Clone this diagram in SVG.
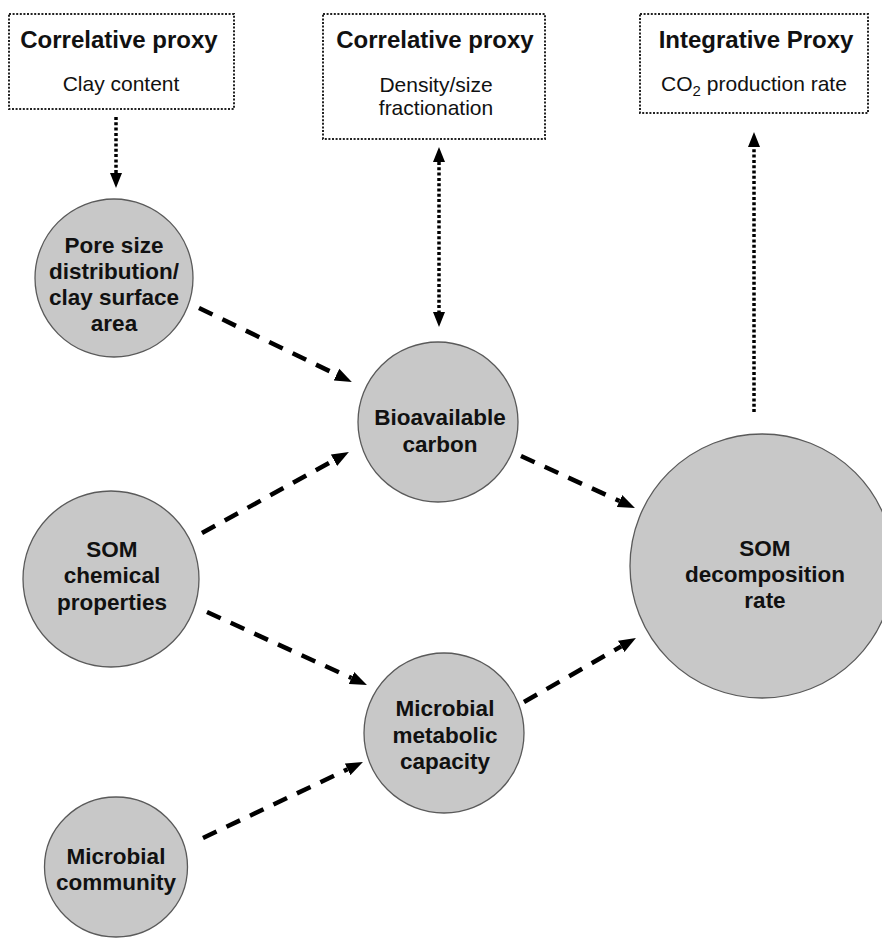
<svg xmlns="http://www.w3.org/2000/svg" width="882" height="938" viewBox="0 0 882 938">
  <defs>
    <style>
      .box { fill: #ffffff; stroke: #222222; stroke-width: 2; stroke-dasharray: 2 1.6; }
      .title { font-family: "Liberation Sans", Arial, Helvetica, sans-serif; font-weight: bold; font-size: 24px; fill: #111111; text-anchor: middle; }
      .body { font-family: "Liberation Sans", Arial, Helvetica, sans-serif; font-size: 21px; fill: #111111; text-anchor: middle; }
      .node { fill: #c8c8c8; stroke: #5a5a5a; stroke-width: 1.3; }
      .label { font-family: "Liberation Sans", Arial, Helvetica, sans-serif; font-weight: bold; font-size: 22.5px; fill: #111111; text-anchor: middle; }
      .dash { fill: none; stroke: #000000; stroke-width: 4.5; stroke-dasharray: 15 11; }
      .dot { fill: none; stroke: #000000; stroke-width: 3.5; stroke-dasharray: 3 2.3; }
    </style>
    <marker id="headDash" markerUnits="userSpaceOnUse" markerWidth="17" markerHeight="14" refX="0" refY="7" orient="auto" viewBox="0 0 17 14">
      <path d="M0,0.5 L17,7 L0,13.5 z" fill="#000000"/>
    </marker>
    <marker id="headDot" markerUnits="userSpaceOnUse" markerWidth="15" markerHeight="12" refX="0" refY="6" orient="auto-start-reverse" viewBox="0 0 15 12">
      <path d="M0,0 L15,6 L0,12 z" fill="#000000"/>
    </marker>
  </defs>

  <rect width="882" height="938" fill="#ffffff"/>

  <g id="proxy-clay">
    <rect class="box" x="9" y="14" width="225" height="95"/>
    <text class="title" x="119" y="48">Correlative proxy</text>
    <text class="body" x="121" y="91">Clay content</text>
  </g>

  <g id="proxy-density">
    <rect class="box" x="323" y="14" width="222" height="125"/>
    <text class="title" x="435" y="48">Correlative proxy</text>
    <text class="body" x="436" y="92">Density/size</text>
    <text class="body" x="436" y="115">fractionation</text>
  </g>

  <g id="proxy-co2">
    <rect class="box" x="640" y="14" width="228" height="99"/>
    <text class="title" x="756" y="48">Integrative Proxy</text>
    <text class="body" x="754" y="91">CO<tspan font-size="15" dy="5">2</tspan><tspan dy="-5"> production rate</tspan></text>
  </g>

  <g id="connectors">
    <line class="dot" x1="116" y1="117" x2="116" y2="173" marker-end="url(#headDot)"/>
    <line class="dot" x1="439" y1="162" x2="439" y2="312" marker-start="url(#headDot)" marker-end="url(#headDot)"/>
    <line class="dot" x1="754" y1="412" x2="754" y2="147" marker-end="url(#headDot)"/>

    <line class="dash" x1="199" y1="308" x2="336.5" y2="374.5" marker-end="url(#headDash)"/>
    <line class="dash" x1="202" y1="533" x2="334" y2="460.2" marker-end="url(#headDash)"/>
    <line class="dash" x1="521" y1="456" x2="619.5" y2="501" marker-end="url(#headDash)"/>
    <line class="dash" x1="207" y1="612" x2="351.5" y2="678" marker-end="url(#headDash)"/>
    <line class="dash" x1="203" y1="838" x2="347.6" y2="769.3" marker-end="url(#headDash)"/>
    <line class="dash" x1="524" y1="702" x2="621.2" y2="646.4" marker-end="url(#headDash)"/>
  </g>

  <g id="node-pore">
    <circle class="node" cx="114" cy="278" r="79"/>
    <text class="label" x="114" y="253">Pore size</text>
    <text class="label" x="114" y="279">distribution/</text>
    <text class="label" x="114" y="305">clay surface</text>
    <text class="label" x="114" y="331">area</text>
  </g>

  <g id="node-bioavailable">
    <circle class="node" cx="438" cy="422" r="80"/>
    <text class="label" x="440" y="425">Bioavailable</text>
    <text class="label" x="440" y="452">carbon</text>
  </g>

  <g id="node-som-chemical">
    <circle class="node" cx="111" cy="579" r="88"/>
    <text class="label" x="112" y="557">SOM</text>
    <text class="label" x="112" y="583">chemical</text>
    <text class="label" x="112" y="610">properties</text>
  </g>

  <g id="node-metabolic">
    <circle class="node" cx="444" cy="733" r="80"/>
    <text class="label" x="445" y="716">Microbial</text>
    <text class="label" x="445" y="743">metabolic</text>
    <text class="label" x="445" y="769">capacity</text>
  </g>

  <g id="node-community">
    <ellipse class="node" cx="116" cy="867" rx="71.5" ry="70"/>
    <text class="label" x="116" y="864">Microbial</text>
    <text class="label" x="116" y="890">community</text>
  </g>

  <g id="node-som-decomposition">
    <circle class="node" cx="762" cy="566" r="132"/>
    <text class="label" x="765" y="556">SOM</text>
    <text class="label" x="765" y="582">decomposition</text>
    <text class="label" x="765" y="608">rate</text>
  </g>
</svg>
